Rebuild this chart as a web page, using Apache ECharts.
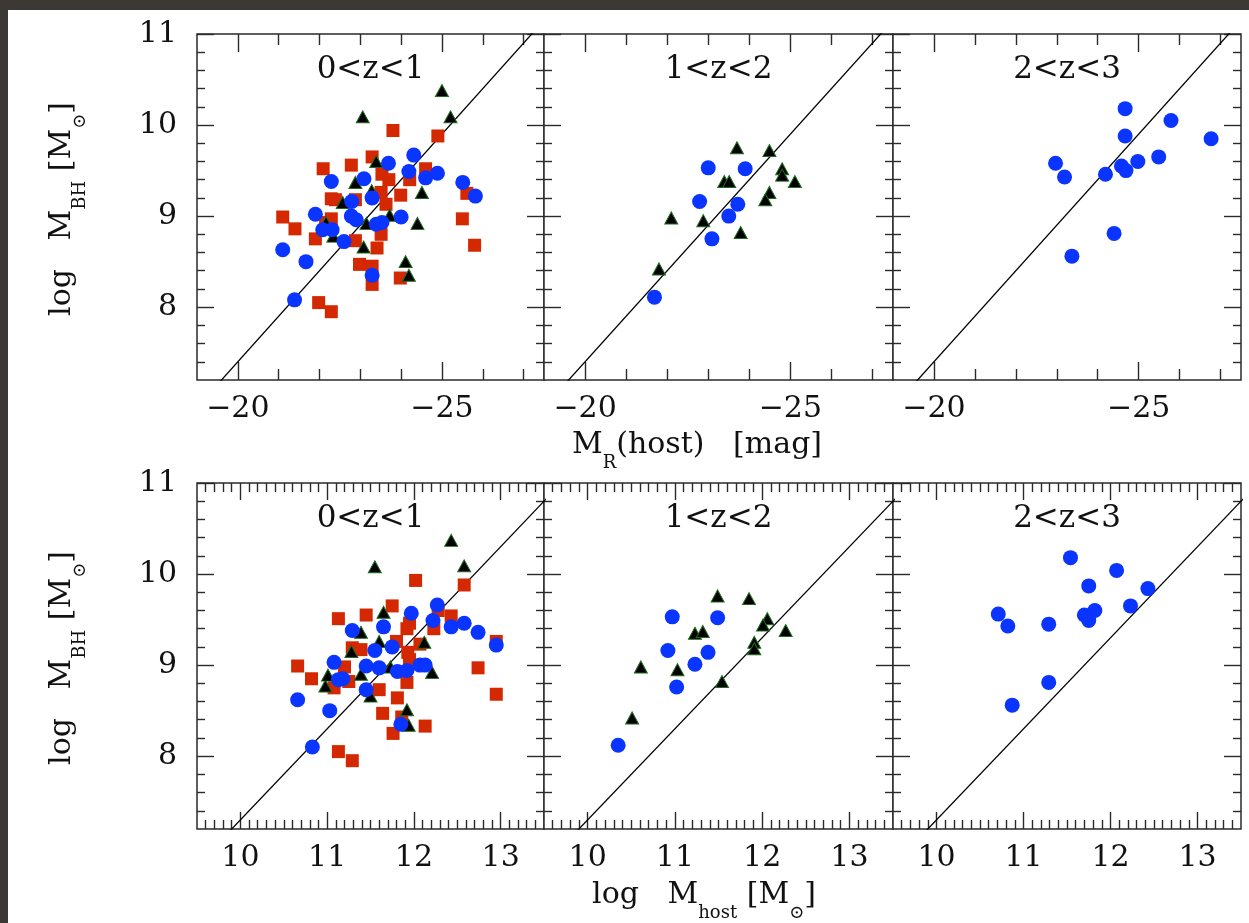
<!DOCTYPE html>
<html>
<head>
<meta charset="utf-8">
<script src="https://cdn.jsdelivr.net/npm/echarts@6/dist/echarts.min.js"></script>
<style>
  html, body { margin: 0; padding: 0; width: 1249px; height: 923px; overflow: hidden; background: #3c3935; }
  #chart { position: absolute; left: 8px; top: 10px; width: 1241px; height: 913px; background: #ffffff; }
</style>
</head>
<body>
<div id="chart"></div>
<script>
// ---- Black-hole mass vs host R-band magnitude, three redshift bins ----
const blue01M = [[-21.10, 8.63], [-21.67, 8.50], [-21.39, 8.08], [-21.90, 9.02], [-22.29, 9.38], [-22.08, 8.85],
  [-22.31, 8.85], [-22.60, 8.72], [-22.79, 9.16], [-22.78, 9.00], [-22.90, 8.96], [-23.09, 9.41], [-23.29, 9.20],
  [-23.39, 8.91], [-23.53, 8.93], [-23.29, 8.35], [-23.69, 9.58], [-24.00, 8.99], [-24.19, 9.49], [-24.31, 9.67],
  [-24.60, 9.42], [-24.89, 9.47], [-25.51, 9.37], [-25.82, 9.22]];
const red01M = [[-21.10, 8.99], [-21.40, 8.86], [-21.90, 8.75], [-22.09, 9.52], [-21.98, 8.05], [-22.29, 7.95],
  [-22.29, 9.19], [-22.39, 9.18], [-22.29, 8.97], [-22.15, 8.93], [-22.78, 9.56], [-22.88, 9.18], [-22.88, 8.73],
  [-22.98, 8.47], [-23.29, 8.45], [-23.29, 8.25], [-23.41, 8.65], [-23.29, 9.65], [-23.51, 8.80], [-23.63, 9.13],
  [-23.53, 9.46], [-23.70, 9.40], [-23.51, 9.26], [-23.99, 9.23], [-23.98, 8.32], [-23.80, 9.94], [-24.21, 9.40],
  [-24.60, 9.52], [-24.90, 9.88], [-25.50, 8.97], [-25.61, 9.25], [-25.80, 8.68]];
const tri01M = [[-23.06, 10.09], [-25.00, 10.38], [-25.21, 10.09], [-23.39, 9.60], [-22.88, 9.37], [-23.28, 9.28],
  [-24.51, 9.26], [-22.57, 9.15], [-23.72, 9.01], [-24.40, 8.92], [-23.15, 8.92], [-22.34, 8.78], [-22.16, 8.93],
  [-23.08, 8.66], [-24.11, 8.50], [-24.19, 8.35]];

const blue12M = [[-23.00, 9.53], [-23.90, 9.52], [-22.79, 9.16], [-23.72, 9.13], [-23.50, 9.00], [-23.09, 8.75], [-21.69, 8.11]];
const tri12M = [[-23.70, 9.75], [-24.49, 9.72], [-24.80, 9.52], [-24.80, 9.45], [-25.11, 9.38], [-23.39, 9.38],
  [-23.51, 9.38], [-24.49, 9.26], [-24.39, 9.18], [-22.10, 8.98], [-22.88, 8.95], [-23.79, 8.82], [-21.80, 8.42]];

const blue23M = [[-24.67, 10.18], [-25.79, 10.05], [-26.77, 9.85], [-24.67, 9.88], [-25.49, 9.65], [-24.98, 9.60],
  [-22.97, 9.58], [-24.58, 9.55], [-24.69, 9.50], [-23.19, 9.43], [-24.19, 9.46], [-24.40, 8.81], [-23.37, 8.56]];

// ---- Black-hole mass vs host stellar mass ----
const blue01H = [[10.66, 8.62], [11.03, 8.50], [10.83, 8.10], [11.08, 9.03], [11.29, 9.38], [11.13, 8.84], [11.18, 8.85],
  [11.45, 8.73], [11.55, 9.16], [11.45, 8.99], [11.60, 8.97], [11.65, 9.42], [11.75, 9.20], [11.81, 8.93], [11.92, 8.94],
  [11.85, 8.35], [11.97, 9.57], [12.07, 9.00], [12.13, 9.00], [12.22, 9.49], [12.27, 9.66], [12.43, 9.42], [12.58, 9.46],
  [12.74, 9.36], [12.95, 9.22]];
const red01H = [[10.66, 8.99], [10.82, 8.85], [11.13, 9.51], [11.08, 8.75], [11.13, 8.05], [11.29, 7.95], [11.20, 8.98],
  [11.25, 8.82], [11.29, 9.19], [11.39, 9.17], [11.45, 9.55], [11.60, 8.73], [11.64, 8.47], [11.75, 9.65], [11.80, 9.26],
  [11.81, 8.64], [11.76, 8.25], [11.92, 8.81], [11.93, 9.14], [11.92, 9.40], [11.95, 9.46], [12.02, 9.93], [11.95, 9.06],
  [11.86, 8.43], [12.07, 9.23], [12.13, 8.33], [12.23, 9.40], [12.28, 9.60], [12.43, 9.54], [12.58, 9.88], [12.74, 8.97],
  [12.95, 8.68], [12.95, 9.26]];
const tri01H = [[11.55, 10.08], [12.43, 10.37], [12.58, 10.09], [11.65, 9.58], [11.39, 9.36], [11.60, 9.26], [12.12, 9.25],
  [11.28, 9.15], [11.73, 8.98], [12.21, 8.92], [11.39, 8.90], [10.98, 8.77], [11.01, 8.89], [11.50, 8.66], [11.92, 8.51],
  [11.94, 8.34]];

const blue12H = [[10.97, 9.53], [11.49, 9.52], [10.92, 9.16], [11.38, 9.14], [11.23, 9.01], [11.02, 8.76], [10.35, 8.12]];
const tri12H = [[11.49, 9.76], [11.85, 9.73], [12.06, 9.51], [12.01, 9.44], [12.27, 9.38], [11.23, 9.35], [11.32, 9.37],
  [11.91, 9.25], [11.91, 9.18], [10.61, 8.98], [11.03, 8.95], [11.54, 8.82], [10.51, 8.42]];

const blue23H = [[11.54, 10.18], [12.07, 10.04], [12.43, 9.84], [11.75, 9.87], [12.23, 9.65], [11.82, 9.60], [10.71, 9.56],
  [11.70, 9.55], [11.75, 9.49], [10.82, 9.43], [11.29, 9.45], [11.29, 8.81], [10.87, 8.56]];

// Local scaling relations (end points, clipped by each panel)
const relationMag = [[-19.0, 6.9], [-28.0, 11.4]];
const relationHost = [[9.5, 6.8], [14.0, 11.3]];

// Panel labels and tick labels
const zBins = ['0<z<1', '1<z<2', '2<z<3'];
const magTicks = [-20, -25];
const hostTicks = [10, 11, 12, 13];
const bhTicks = [8, 9, 10, 11];

// ---- layout (page pixels) ----
const OX = 8, OY = 10;
const FONT = "'DejaVu Serif', 'Liberation Serif', serif";
const cols = [{ left: 197, width: 347 }, { left: 544, width: 349 }, { left: 893, width: 348 }];
const rows = [{ top: 34, height: 346 }, { top: 483, height: 346 }];

function steps(a, b, step, skip) {
  const out = [];
  for (let v = a; v <= b + 1e-9; v += step) {
    const r = Math.round(v * 10) / 10;
    if (!skip.includes(r)) out.push(r);
  }
  return out;
}

const magSpec = { min: -27.5, max: -19, inverse: true, majors: magTicks, minors: [-21, -22, -23, -24, -26, -27],
  majorLen: 18, minorLen: 11, labels: magTicks, margin: 14,
  fmt: v => (v < 0 ? '\u2212' + Math.abs(v) : String(v)) };
const hostSpec = { min: 9.5, max: 13.5, inverse: false, majors: hostTicks, minors: steps(9.6, 13.4, 0.1, hostTicks),
  majorLen: 17, minorLen: 9, labels: hostTicks, margin: 14, fmt: v => String(v) };
const bhSpec = { min: 7.2, max: 11, inverse: false, majors: bhTicks, minors: steps(7.4, 10.8, 0.2, bhTicks),
  majorLen: 17, minorLen: 8, labels: bhTicks, margin: 20, fmt: v => String(v) };

function sideAxes(kind, gi, spec, showLabels) {
  const positions = kind === 'x' ? ['bottom', 'top'] : ['left', 'right'];
  const out = [];
  positions.forEach(pos => {
    [true, false].forEach(isMajor => {
      out.push({
        type: 'value', gridIndex: gi, position: pos, min: spec.min, max: spec.max, inverse: spec.inverse,
        silent: true,
        axisLine: { show: false },
        splitLine: { show: false },
        axisTick: {
          show: true, inside: true, length: isMajor ? spec.majorLen : spec.minorLen,
          customValues: isMajor ? spec.majors : spec.minors,
          lineStyle: { color: '#2a2a2a', width: 1.4 }
        },
        axisLabel: {
          show: showLabels && isMajor && pos === positions[0],
          customValues: spec.labels, formatter: spec.fmt, margin: spec.margin,
          showMinLabel: true, showMaxLabel: true,
          fontFamily: FONT, fontSize: 30, color: '#111'
        }
      });
    });
  });
  return out;
}

const grids = [], xAxes = [], yAxes = [], series = [], graphics = [];

const panels = [
  { row: 0, col: 0, line: relationMag, red: red01M, tri: tri01M, blue: blue01M },
  { row: 0, col: 1, line: relationMag, red: null, tri: tri12M, blue: blue12M },
  { row: 0, col: 2, line: relationMag, red: null, tri: null, blue: blue23M },
  { row: 1, col: 0, line: relationHost, red: red01H, tri: tri01H, blue: blue01H },
  { row: 1, col: 1, line: relationHost, red: null, tri: tri12H, blue: blue12H },
  { row: 1, col: 2, line: relationHost, red: null, tri: null, blue: blue23H }
];

panels.forEach((p, gi) => {
  const c = cols[p.col], r = rows[p.row];
  grids.push({
    left: c.left - OX, top: r.top - OY, width: c.width, height: r.height,
    show: true, backgroundColor: '#fff', borderColor: '#2a2a2a', borderWidth: 1.5, containLabel: false
  });
  xAxes.push(...sideAxes('x', gi, p.row === 0 ? magSpec : hostSpec, true));
  yAxes.push(...sideAxes('y', gi, bhSpec, p.col === 0));
  const ax = { xAxisIndex: gi * 4, yAxisIndex: gi * 4 };
  series.push({
    type: 'line', ...ax, data: p.line, symbol: 'none', clip: true, silent: true,
    lineStyle: { color: '#000', width: 1.3 }, z: 2
  });
  if (p.red) series.push({
    type: 'scatter', ...ax, data: p.red, symbol: 'rect', symbolSize: 13,
    itemStyle: { color: '#d42800', opacity: 1 }, z: 3
  });
  if (p.tri) series.push({
    type: 'scatter', ...ax, data: p.tri, symbol: 'triangle', symbolSize: [13, 12],
    itemStyle: { color: '#000', borderColor: '#1f6b1f', borderWidth: 1, opacity: 1 }, z: 4
  });
  series.push({
    type: 'scatter', ...ax, data: p.blue, symbol: 'circle', symbolSize: 15,
    itemStyle: { color: '#0a34ff', opacity: 1 }, z: 5
  });
  graphics.push({
    type: 'text', x: c.left + c.width / 2 - OX, y: r.top + 36 - OY, z: 50,
    style: { text: zBins[p.col], font: '31px ' + FONT, fill: '#111', align: 'center', verticalAlign: 'middle' }
  });
});

// Axis titles with lowered subscripts
const rich = {
  m: { fontFamily: FONT, fontSize: 30, lineHeight: 34, verticalAlign: 'top', color: '#111' },
  s: { fontFamily: FONT, fontSize: 18, lineHeight: 18, verticalAlign: 'top', padding: [24, 0, 0, 0], color: '#111' }
};
function axisTitle(text, x, y, rot) {
  return {
    type: 'text', x: x - OX, y: y - OY, rotation: rot, z: 50,
    style: { text: text, rich: rich, align: 'center', verticalAlign: 'middle', fill: '#111' }
  };
}
const bhTitle = '{m|log   M}{s|BH}{m| [M}{s|\u2299}{m|]}';
graphics.push(axisTitle(bhTitle, 64, 209, Math.PI / 2));
graphics.push(axisTitle(bhTitle, 64, 658, Math.PI / 2));
graphics.push(axisTitle('{m|M}{s|R}{m|(host)   [mag]}', 697, 447));
graphics.push(axisTitle('{m|log   M}{s|host}{m| [M}{s|\u2299}{m|]}', 704, 897));

const chart = echarts.init(document.getElementById('chart'), null, { renderer: 'canvas' });
chart.setOption({
  animation: false,
  backgroundColor: '#ffffff',
  grid: grids,
  xAxis: xAxes,
  yAxis: yAxes,
  series: series,
  graphic: { elements: graphics }
});
</script>
</body>
</html>
